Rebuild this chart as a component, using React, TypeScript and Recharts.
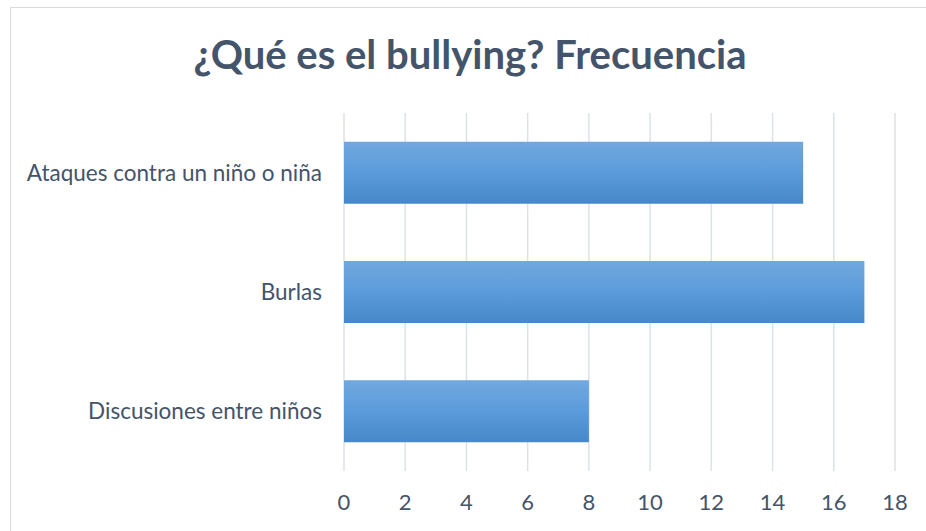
import { BarChart, Bar, XAxis, YAxis, CartesianGrid } from "recharts";

const categories = ["Ataques contra un niño o niña", "Burlas", "Discusiones entre niños"];
const frecuencia = [15, 17, 8];
const xTicks = [0, 2, 4, 6, 8, 10, 12, 14, 16, 18];

const data = categories.map((name, i) => ({ name, value: frecuencia[i] }));

const textColor = "#44546A";
const font = "Lato, 'Noto Sans', sans-serif";

export default function App() {
  return (
    <div style={{ position: "absolute", left: 0, top: 0, width: 926, height: 531, overflow: "hidden", background: "#fff" }}>
      <div
        style={{
          position: "absolute",
          left: 10,
          top: 7,
          width: 940,
          height: 560,
          border: "1px solid #D9DDE3",
        }}
      />
      <div
        style={{
          position: "absolute",
          left: 10,
          top: 34,
          width: 920,
          textAlign: "center",
          fontFamily: font,
          fontWeight: 700,
          fontSize: 40,
          lineHeight: 1,
          color: textColor,
        }}
      >
        ¿Qué es el bullying? Frecuencia
      </div>
      <div style={{ position: "absolute", left: 0, top: 0 }}>
        <BarChart
          width={926}
          height={531}
          data={data}
          layout="vertical"
          margin={{ top: 113, right: 31, left: 0, bottom: 20 }}
          barCategoryGap="24%"
        >
          <defs>
            <linearGradient id="barFill" x1="0" y1="0" x2="0" y2="1">
              <stop offset="0%" stopColor="#71A8DE" />
              <stop offset="50%" stopColor="#5B9BDB" />
              <stop offset="100%" stopColor="#4788C9" />
            </linearGradient>
          </defs>
          <CartesianGrid horizontal={false} stroke="#DDE2E9" strokeWidth={1.5} />
          <XAxis
            type="number"
            domain={[0, 18]}
            ticks={xTicks}
            axisLine={false}
            tickLine={false}
            height={40}
            tickMargin={17}
            tick={{ fill: textColor, fontSize: 22, fontFamily: font }}
          />
          <YAxis
            type="category"
            dataKey="name"
            width={344}
            axisLine={false}
            tickLine={false}
            tickMargin={16}
            tick={{ fill: textColor, fontSize: 22.5, fontFamily: font }}
          />
          <Bar dataKey="value" fill="url(#barFill)" isAnimationActive={false} />
        </BarChart>
      </div>
    </div>
  );
}
